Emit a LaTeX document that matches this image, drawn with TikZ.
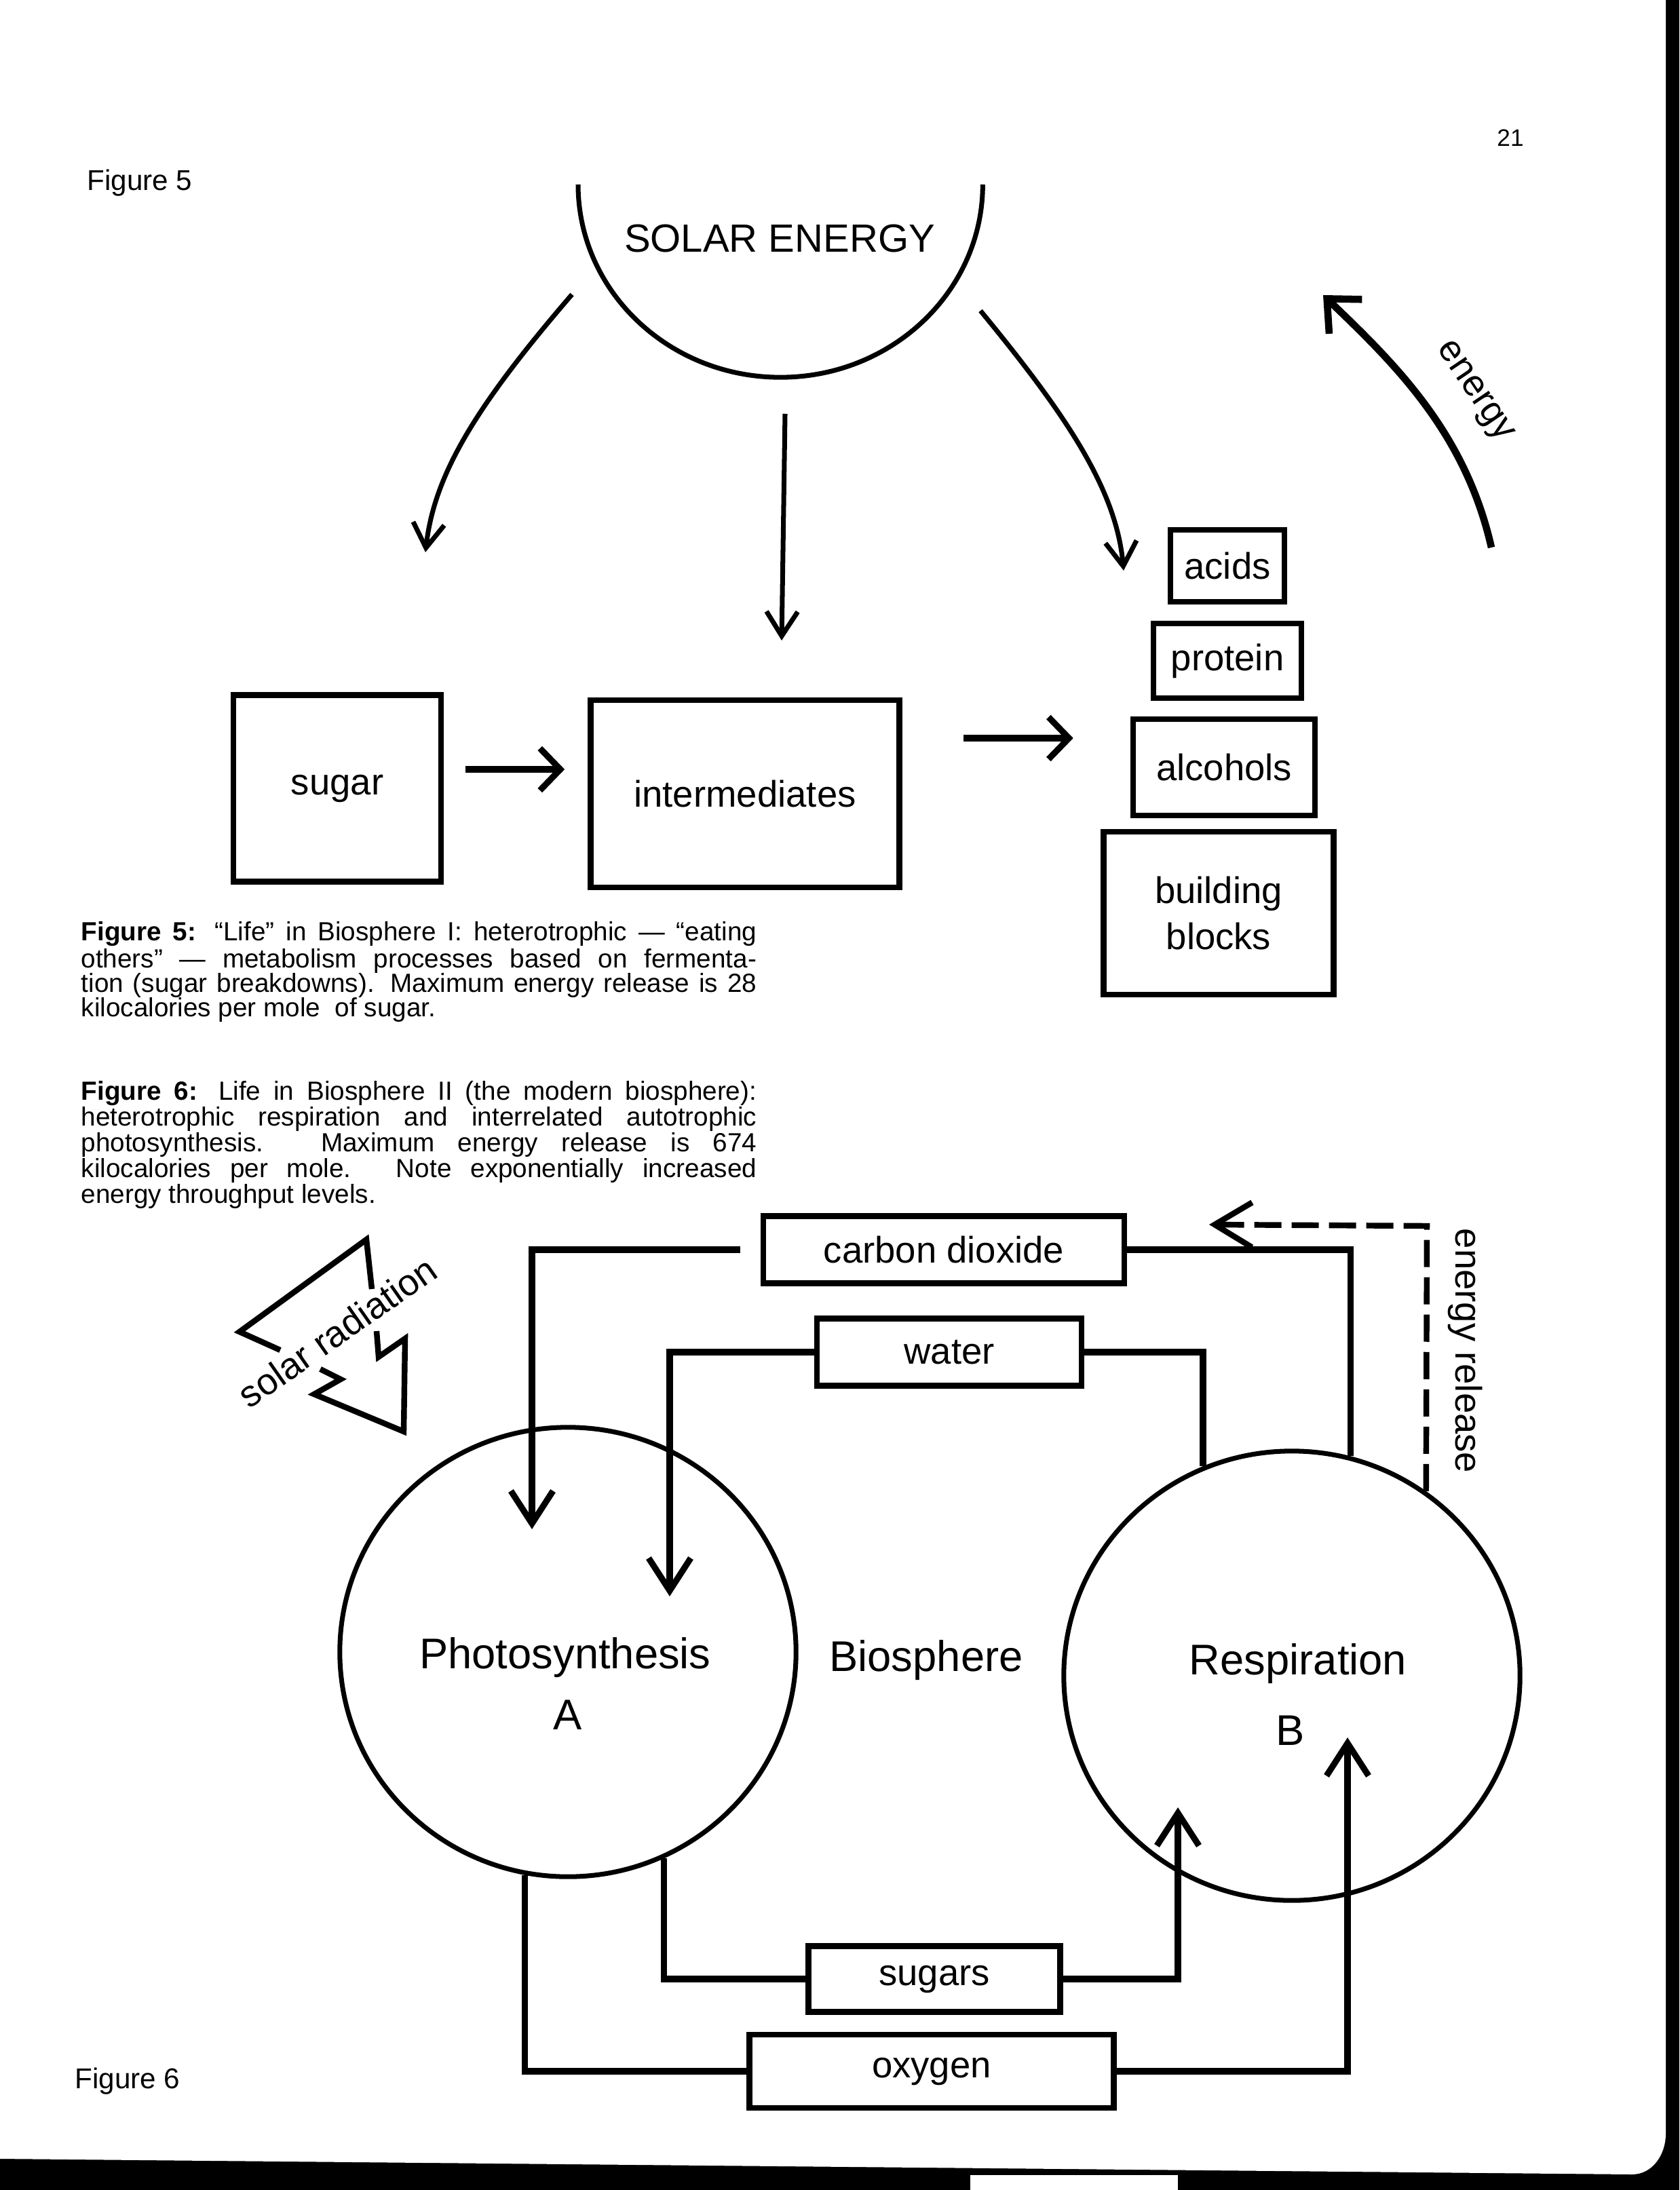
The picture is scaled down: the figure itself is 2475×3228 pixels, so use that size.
\documentclass[tikz,border=0pt]{standalone}
\usepackage{fontspec}
\setmainfont{Liberation Sans}
\usepackage{tikz}
\usetikzlibrary{positioning,calc,arrows.meta,shapes.geometric}
\tikzset{
    procbox/.style={draw, line width=2.4pt, inner sep=0pt, font=\fontsize{15.5}{19.6}\selectfont},
    cellnode/.style={ellipse, draw, line width=2pt, inner sep=0pt, minimum width=6.72cm, minimum height=6.62cm},
    captext/.style={anchor=north west, inner sep=0pt, text width=9.95cm, align=justify},
    link/.style={line width=2.6pt},
    flow/.style={link, -{Straight Barb[length=4.8mm, width=6.2mm]}},
    ray/.style={line width=2pt, -{Straight Barb[length=3.6mm, width=4.6mm]}}
}

\begin{document}
\begin{tikzpicture}[x=0.01cm, y=-0.01cm,
                bigfont/.style={font=\fontsize{18}{22}\selectfont},
                labelfont/.style={font=\fontsize{15.5}{19}\selectfont},
                bolt/.style={line width=2.4pt}
            ]
    % scanned page and its dark edge
    \fill[black] (0,0) rectangle (2475,3228);
    \fill[white] (0,0) -- (2455,0) -- (2455,3145) to[out=270, in=0] (2405,3205) -- (0,3182) -- cycle;
    \fill[white] (1430,3206) rectangle (1736,3228);

    % ---------- Figure 5 ----------
    \node[anchor=west, font=\fontsize{12}{14}\selectfont] (fig5) at (116,270) {Figure 5};
    \node[font=\fontsize{10}{12}\selectfont] (pagenum) at (2226,203) {21};

    \draw[line width=2pt] (852,272) arc[start angle=180, end angle=360, x radius=2.98cm, y radius=2.84cm];
    \node[font=\fontsize{16.5}{20}\selectfont] (solar) at (1149,352) {SOLAR ENERGY};

    \coordinate (rayL) at (843,434);
    \coordinate (rayLend) at (627,814);
    \coordinate (rayM) at (1157,610);
    \coordinate (rayMend) at (1152,944);
    \coordinate (rayR) at (1445,458);
    \coordinate (rayRend) at (1656,841);
    \draw[ray] (rayL) .. controls (700,600) and (640,700) .. (rayLend);
    \draw[ray] (rayM) -- (rayMend);
    \draw[ray] (rayR) .. controls (1570,610) and (1645,720) .. (rayRend);

    \node[procbox, minimum width=3.06cm, minimum height=2.75cm] (sugar) at (497,1162) {sugar};
    \node[procbox, minimum width=4.55cm, minimum height=2.76cm] (inter) at (1098,1170) {intermediates};

    \node[procbox, minimum width=1.68cm, minimum height=1.06cm] (acids) at (1809,834) {acids};
    \node[procbox, minimum width=2.18cm, minimum height=1.10cm] (protein) at (1809,974) {protein};
    \node[procbox, minimum width=2.68cm, minimum height=1.42cm] (alcohols) at (1804,1131) {alcohols};
    \node[procbox, minimum width=3.39cm, minimum height=2.40cm, align=center] (blocks) at (1796,1346) {building\\blocks};

    \draw[line width=2.6pt, -{Straight Barb[length=3mm, width=6.2mm]}] ($(sugar.east)+(32,-28)$) -- ($(inter.west)+(-34,-36)$);
    \draw[line width=2.6pt, -{Straight Barb[length=3mm, width=6.2mm]}] ($(inter.east)+(90,-82)$) -- ($(alcohols.west)+(-84,-43)$);

    \coordinate (energyfoot) at (2198,807);
    \coordinate (energytip) at (1950,435);
    \draw[line width=3pt, -{Straight Barb[length=3.8mm, width=7mm]}] (energyfoot) .. controls (2160,640) and (2060,540) .. (energytip);
    \node[labelfont, rotate=-56] (energy) at (2172,578) {energy};

    \node[captext, font=\fontsize{11}{10.3}\selectfont] (cap5) at (119,1358)
        {\textbf{Figure 5:} “Life” in Biosphere I: heterotrophic — “eating\linebreak
        others” — metabolism processes based on fermenta-\linebreak
        tion (sugar breakdowns). Maximum energy release is 28\linebreak
        kilocalories per mole\ \ of sugar.};

    % ---------- Figure 6 ----------
    \node[captext, font=\fontsize{11}{10.8}\selectfont] (cap6) at (119,1593)
        {\textbf{Figure 6:} Life in Biosphere II (the modern biosphere):\linebreak
        heterotrophic respiration and interrelated autotrophic\linebreak
        photosynthesis. Maximum energy release is 674\linebreak
        kilocalories per mole. Note exponentially increased\linebreak
        energy throughput levels.};

    % solar radiation bolt
    \draw[bolt] (413,1990) -- (353,1963) -- (540,1827) -- (548,1900);
    \draw[bolt] (555,1962) -- (558,2000) -- (597,1973) -- (595,2110) -- (463,2055) -- (502,2033) -- (472,2018);
    \node[labelfont, rotate=35] (radiation) at (497,1963) {solar radiation};

    \node[cellnode] (photo) at (837,2435) {};
    \node[cellnode] (resp) at (1904,2470) {};
    \node[bigfont] (photoname) at (833,2443) {Photosynthesis};
    \node[bigfont] (photoA) at (837,2528) {A};
    \node[bigfont] (respname) at (1913,2452) {Respiration};
    \node[bigfont] (respB) at (1902,2551) {B};
    \node[bigfont] (bio) at (1365,2447) {Biosphere};

    \node[procbox, minimum width=5.32cm, minimum height=0.99cm] (co2) at (1391,1842) {carbon dioxide};
    \node[procbox, minimum width=3.90cm, minimum height=0.99cm] (water) at (1399,1993) {water};
    \node[procbox, minimum width=3.71cm, minimum height=0.97cm] (sugars) at (1377,2917) {sugars};
    \node[procbox, minimum width=5.37cm, minimum height=1.08cm] (oxygen) at (1373,3053) {oxygen};

    \coordinate (photoin1) at (784,2254);
    \coordinate (photoin2) at (987,2353);
    \coordinate (respin1) at (1736,2664);
    \coordinate (respin2) at (1986,2561);

    \draw[flow, shorten <=0.3cm] (co2.west) -| (photoin1);
    \draw[link] (co2.east) -| (resp.75);
    \draw[flow] (water.west) -| (photoin2);
    \draw[link] (water.east) -| (resp.113);
    \draw[link] (photo.-65) |- (sugars.west);
    \draw[flow] (sugars.east) -| (respin1);
    \draw[link] (photo.-101) |- (oxygen.west);
    \draw[flow] (oxygen.east) -| (respin2);

    \coordinate (relcorner) at (2103,1807);
    \coordinate (reltip) at (1782,1805);
    \draw[line width=2.4pt, dash pattern=on 0.4cm off 0.15cm, -{Straight Barb[length=5.5mm, width=6.6mm]}] (resp.54) -- (relcorner) -- (reltip);
    \node[labelfont, rotate=-90] (release) at (2160,1991) {energy release};

    \node[anchor=west, font=\fontsize{12}{14}\selectfont] (fig6) at (98,3068) {Figure 6};
\end{tikzpicture}
\end{document}
